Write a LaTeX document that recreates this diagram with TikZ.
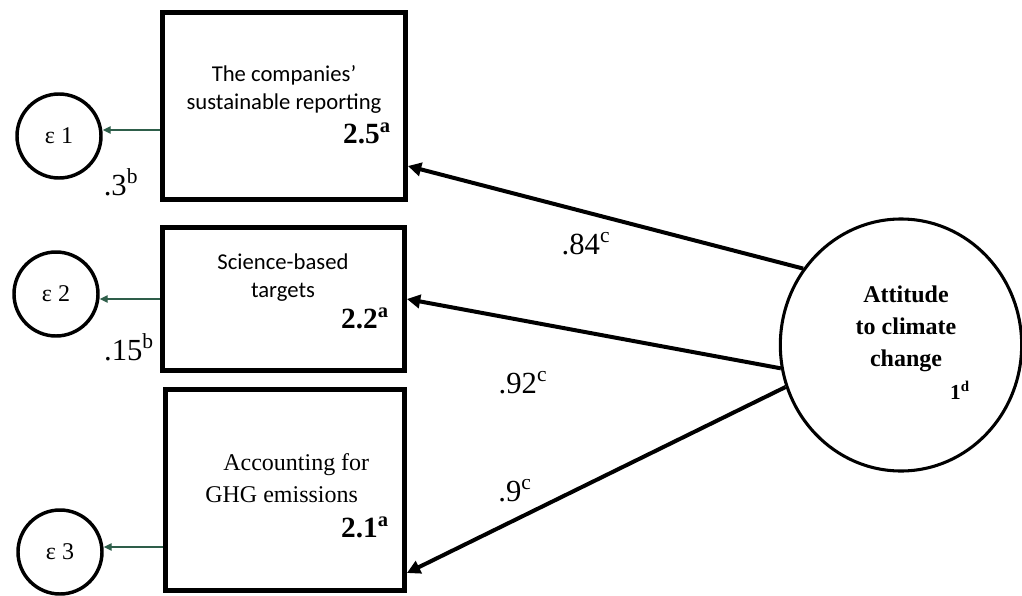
\documentclass[tikz,border=0pt]{standalone}
\usepackage{fontspec}
\setmainfont{Liberation Serif}
\newfontfamily\calibri{Carlito}
\usepackage{tikz}
\usetikzlibrary{arrows.meta,positioning,calc,shapes.geometric}
\definecolor{errgreen}{RGB}{46,94,74}

\begin{document}
\begin{tikzpicture}[
  x=0.75pt, y=-0.75pt,
  indbox/.style={draw, line width=3.6pt, inner sep=0pt},
  err/.style={draw, circle, line width=2.6pt, minimum size=63pt, inner sep=0pt, font=\fontsize{18}{20}\selectfont},
  latent/.style={draw, ellipse, line width=2.3pt, minimum width=181pt, minimum height=189pt, inner sep=0pt},
  item/.style={font=\calibri\fontsize{17}{21}\selectfont, align=center, inner sep=0pt},
  mean/.style={font=\bfseries\fontsize{22}{24}\selectfont, inner sep=0pt, anchor=base east},
  coef/.style={font=\fontsize{23}{25}\selectfont, inner sep=0pt},
  arr/.style={-{Triangle[length=10pt,width=10pt]}, line width=3pt},
  garr/.style={-{Triangle[length=6pt,width=5.5pt]}, line width=1.1pt, errgreen}]
  \useasboundingbox (0,0) rectangle (1022,596);
  % observed indicators
  \node[indbox, minimum width=182.25pt, minimum height=140.25pt] (rep) at (284,106) {};
  \node[indbox, minimum width=181.5pt, minimum height=107.25pt] (sbt) at (283.5,299) {};
  \node[indbox, minimum width=179.25pt, minimum height=150.75pt] (ghg) at (285,490) {};
  \node[item] at (284,89) {The companies’\\sustainable reporting};
  \node[item] at (283,278) {Science-based\\targets};
  \node[item, font=\fontsize{18}{24}\selectfont, align=left, anchor=west] at (205,478) {\hspace*{13.5pt}Accounting for\\GHG emissions};
  \node[mean] at (391,143) {2.5\textsuperscript{a}};
  \node[mean] at (389,328) {2.2\textsuperscript{a}};
  \node[mean] at (389,537) {2.1\textsuperscript{a}};
  % error terms
  \node[err] (e1) at (59,136) {ε 1};
  \node[err] (e2) at (56,294) {ε 2};
  \node[err] (e3) at (60,552) {ε 3};
  \node[coef] at (121,182) {.3\textsuperscript{b}};
  \node[coef] at (129,347) {.15\textsuperscript{b}};
  % latent factor
  \node[latent] (att) at (901,345) {};
  \node[font=\bfseries\fontsize{18}{24}\selectfont, align=center, inner sep=0pt] at (906,329) {Attitude\\to climate\\change};
  \node[font=\bfseries\fontsize{16}{18}\selectfont, inner sep=0pt] at (960,390) {1\textsuperscript{d}};
  \node[coef] at (586,244) {.84\textsuperscript{c}};
  \node[coef] at (523,383) {.92\textsuperscript{c}};
  \node[coef] at (515,491) {.9\textsuperscript{c}};
  % loadings
  \draw[arr] (att.142) -- ([yshift=-45pt]rep.east);
  \draw[arr] (att.191) -- (sbt.east);
  \draw[arr] (att.200) -- ([yshift=-62.25pt]ghg.east);
  \draw[garr] ([yshift=-18pt]rep.west) -- ([yshift=-18pt]rep.west -| e1.east);
  \draw[garr] (sbt.west) -- (sbt.west -| e2.east);
  \draw[garr] ([yshift=-42.75pt]ghg.west) -- ([yshift=-42.75pt]ghg.west -| e3.east);
\end{tikzpicture}
\end{document}
